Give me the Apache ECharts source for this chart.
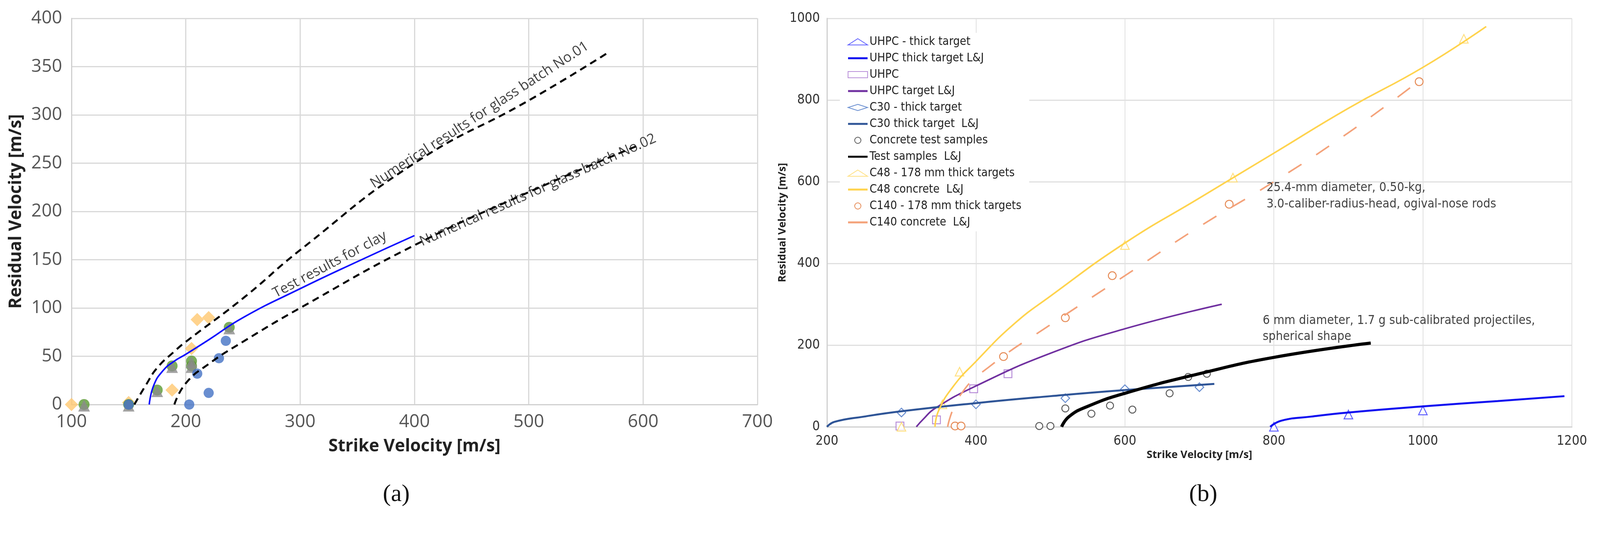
<!DOCTYPE html>
<html>
<head>
<meta charset="utf-8">
<script src="https://cdn.jsdelivr.net/npm/echarts@6/dist/echarts.min.js"></script>
<style>html,body{margin:0;background:#fff}#main{width:4351px;height:1397px}</style>
</head>
<body>
<div id="main"></div>
<script>
// ---- panel (a) ----
var clayYellow = [[100, 0], [150, 2], [188, 15], [205, 58], [210, 88], [220, 90]];
var clayGreen = [[111, 0], [150, 0], [175, 15], [188, 40], [205, 40], [205, 45], [238, 80]];
var clayBlue = [[150, 0], [203, 0], [210, 32], [220, 12], [229, 48], [235, 66]];
var clayLine = [[168, 0], [172, 20], [180, 35], [190, 45], [200, 52], [220, 67], [250, 90], [300, 120], [350, 148], [400, 175]];
var batch01 = [[155, 0], [165, 20], [175, 38], [190, 55], [200, 65], [250, 110], [300, 160], [400, 250], [500, 315], [570, 365]];
var batch02 = [[190, 0], [200, 22], [220, 42], [250, 65], [300, 100], [400, 165], [500, 220], [595, 268]];

// ---- panel (b) ----
var uhpcThick = [[800, 0], [900, 30], [1000, 40]];
var uhpcThickLJ = [[795, 0], [810, 15], [850, 25], [900, 35], [1000, 50], [1100, 63], [1190, 75]];
var uhpc = [[298, 2], [347, 17], [397, 93], [443, 130]];
var uhpcLJ = [[320, 0], [330, 20], [345, 45], [400, 100], [500, 180], [600, 240], [730, 300]];
var c30 = [[300, 35], [400, 55], [520, 70], [600, 92], [700, 97]];
var c30LJ = [[200, 0], [210, 12], [250, 25], [300, 38], [400, 58], [500, 75], [600, 90], [720, 105]];
var concrete = [[485, 2], [500, 2], [520, 45], [555, 32], [580, 52], [610, 42], [660, 82], [685, 122], [710, 130]];
var testLJ = [[515, 0], [525, 25], [550, 50], [600, 82], [700, 130], [800, 170], [930, 205]];
var c48 = [[300, 0], [355, 55], [378, 135], [600, 445], [745, 610], [1055, 950]];
var c48LJ = [[345, 0], [350, 40], [370, 100], [400, 160], [450, 250], [500, 320], [600, 450], [700, 560], [800, 670], [900, 780], [1000, 880], [1085, 980]];
var c140 = [[372, 2], [380, 2], [437, 172], [520, 267], [583, 370], [740, 545], [995, 845]];
var c140LJ = [[362, 0], [380, 80], [420, 150], [500, 250], [600, 370], [700, 490], [800, 600], [900, 720], [990, 840]];

var chart = echarts.init(document.getElementById('main'));
var narrow = "'DejaVu Sans Condensed', Roboto, sans-serif";

function hollow(name, data, symbol, color, size) {
    return {
        name: name, type: 'scatter', xAxisIndex: 1, yAxisIndex: 1, data: data,
        symbol: symbol, symbolSize: size || 22,
        itemStyle: {color: '#fff', borderColor: color, borderWidth: 2.5}
    };
}
function ljLine(name, data, color, width, dash) {
    return {
        name: name, type: 'line', xAxisIndex: 1, yAxisIndex: 1, data: data,
        smooth: true, symbol: 'none', showSymbol: false,
        lineStyle: {color: color, width: width, type: dash || 'solid'},
        itemStyle: {color: color}
    };
}
function note(data, text, rot, xi, yi, size) {
    return {
        type: 'scatter', xAxisIndex: xi, yAxisIndex: yi, data: [data], symbolSize: 0, silent: true, z: 10,
        label: {show: true, formatter: text, rotate: rot, position: 'inside', color: '#111',
            fontSize: size, fontFamily: rot ? 'Open Sans' : narrow, lineHeight: size * 1.3, align: rot ? 'center' : 'left'}
    };
}
var axisTitle = {fontFamily: 'Open Sans', fontWeight: 'bold', color: '#222'};
var lineIcon = 'path://M0,0H100V10H0Z';

chart.setOption({
    animation: false,
    grid: [
        {left: 183, top: 47, width: 1756, height: 988},
        {left: 2117, top: 47, width: 1907, height: 1045}
    ],
    legend: {
        left: 2150, top: 84, orient: 'vertical', itemGap: 12, itemWidth: 50, itemHeight: 16,
        backgroundColor: '#fff', padding: [8, 20, 8, 20],
        textStyle: {fontFamily: narrow, fontSize: 30, color: '#222'},
        data: [
            'UHPC - thick target', {name: 'UHPC thick target L&J', icon: lineIcon}, 'UHPC', {name: 'UHPC target L&J', icon: lineIcon},
            'C30 - thick target', {name: 'C30 thick target  L&J', icon: lineIcon}, 'Concrete test samples', {name: 'Test samples  L&J', icon: lineIcon},
            'C48 - 178 mm thick targets', {name: 'C48 concrete  L&J', icon: lineIcon}, 'C140 - 178 mm thick targets', {name: 'C140 concrete  L&J', icon: lineIcon}
        ]
    },
    xAxis: [
        {gridIndex: 0, type: 'value', min: 100, max: 700, interval: 100,
            name: 'Strike Velocity [m/s]', nameLocation: 'middle', nameGap: 85,
            nameTextStyle: Object.assign({fontSize: 44}, axisTitle),
            axisLine: {lineStyle: {color: '#d0d0d0', width: 3}}, axisTick: {show: false},
            axisLabel: {fontSize: 46, color: '#555', fontFamily: 'Open Sans', margin: 22},
            splitLine: {lineStyle: {color: '#d9d9d9', width: 3}}},
        {gridIndex: 1, type: 'value', min: 200, max: 1200, interval: 200,
            name: 'Strike Velocity [m/s]', nameLocation: 'middle', nameGap: 58,
            nameTextStyle: Object.assign({fontSize: 27}, axisTitle),
            axisLine: {lineStyle: {color: '#d0d0d0', width: 3}}, axisTick: {show: false},
            axisLabel: {fontSize: 34, color: '#333', fontFamily: narrow, margin: 20,
                showMaxLabel: true, showMinLabel: true, formatter: function (v) { return String(v); }},
            splitLine: {lineStyle: {color: '#e0e0e0', width: 2}}}
    ],
    yAxis: [
        {gridIndex: 0, type: 'value', min: 0, max: 400, interval: 50,
            name: 'Residual Velocity [m/s]', nameLocation: 'middle', nameGap: 120,
            nameTextStyle: Object.assign({fontSize: 44}, axisTitle),
            axisLine: {show: true, lineStyle: {color: '#d0d0d0', width: 3}}, axisTick: {show: false},
            axisLabel: {fontSize: 46, color: '#555', fontFamily: 'Open Sans', margin: 24},
            splitLine: {lineStyle: {color: '#d9d9d9', width: 3}}},
        {gridIndex: 1, type: 'value', min: 0, max: 1000, interval: 200,
            name: 'Residual Velocity [m/s]', nameLocation: 'middle', nameGap: 100,
            nameTextStyle: Object.assign({fontSize: 27}, axisTitle),
            axisLine: {show: true, lineStyle: {color: '#d0d0d0', width: 3}}, axisTick: {show: false},
            axisLabel: {fontSize: 34, color: '#333', fontFamily: narrow, margin: 18,
                formatter: function (v) { return String(v); }},
            splitLine: {lineStyle: {color: '#e0e0e0', width: 3}}}
    ],
    graphic: [
        {type: 'text', left: 980, top: 1235, style: {text: '(a)', fontSize: 62, fontFamily: 'Liberation Serif', fill: '#111'}},
        {type: 'text', left: 3044, top: 1235, style: {text: '(b)', fontSize: 62, fontFamily: 'Liberation Serif', fill: '#111'}}
    ],
    series: [
        {type: 'line', data: batch01, smooth: true, symbol: 'none', lineStyle: {color: '#000', width: 5, type: [18, 12]}},
        {type: 'line', data: batch02, smooth: true, symbol: 'none', lineStyle: {color: '#000', width: 5, type: [18, 12]}},
        {type: 'line', data: clayLine, smooth: true, symbol: 'none', lineStyle: {color: '#1010ff', width: 4}},
        {type: 'scatter', data: clayYellow, symbol: 'diamond', symbolSize: 34, itemStyle: {color: '#ffc870'}},
        {type: 'scatter', data: clayGreen, symbol: 'circle', symbolSize: 28, itemStyle: {color: '#5a9a32'}},
        {type: 'scatter', data: clayGreen, symbol: 'triangle', symbolSize: 30, symbolOffset: [0, 3], itemStyle: {color: '#8c8c8c'}},
        {type: 'scatter', data: clayBlue, symbol: 'circle', symbolSize: 26, itemStyle: {color: '#4472c4'}},
        note([457, 300], 'Numerical results for glass batch No.01', 33, 0, 0, 36),
        note([326, 145], 'Test results for clay', 28, 0, 0, 36),
        note([508, 222], 'Numerical results for glass batch No.02', 24, 0, 0, 36),

        hollow('UHPC - thick target', uhpcThick, 'triangle', '#3a3aff'),
        ljLine('UHPC thick target L&J', uhpcThickLJ, '#1010f0', 5),
        hollow('UHPC', uhpc, 'rect', '#a874d0', 20),
        ljLine('UHPC target L&J', uhpcLJ, '#7030a0', 4),
        hollow('C30 - thick target', c30, 'diamond', '#4472c4'),
        ljLine('C30 thick target  L&J', c30LJ, '#2f5597', 5),
        hollow('Concrete test samples', concrete, 'circle', '#333', 18),
        ljLine('Test samples  L&J', testLJ, '#000', 8),
        hollow('C48 - 178 mm thick targets', c48, 'triangle', '#ffd966'),
        ljLine('C48 concrete  L&J', c48LJ, '#ffd34d', 4),
        hollow('C140 - 178 mm thick targets', c140, 'circle', '#e07030', 20),
        ljLine('C140 concrete  L&J', c140LJ, '#f4a27a', 4, [40, 45]),
        note([790, 565], '25.4-mm diameter, 0.50-kg,\n3.0-caliber-radius-head, ogival-nose rods', 0, 1, 1, 32),
        note([785, 240], '6 mm diameter, 1.7 g sub-calibrated projectiles,\nspherical shape', 0, 1, 1, 32)
    ]
});
</script>
</body>
</html>
